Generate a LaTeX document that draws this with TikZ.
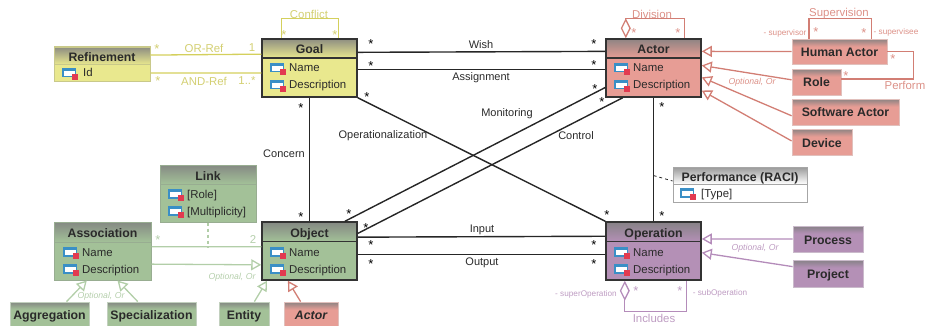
\documentclass[tikz,border=0pt]{standalone}
\usepackage{fontspec}
\setmainfont{Liberation Sans}
\usetikzlibrary{positioning,arrows.meta,calc}

\definecolor{goalfill}{HTML}{E9E88E}
\definecolor{goalline}{HTML}{D4D05C}
\definecolor{goaltext}{HTML}{D3CF72}
\definecolor{actorfill}{HTML}{E79D95}
\definecolor{actorline}{HTML}{D27E74}
\definecolor{actortext}{HTML}{DC9188}
\definecolor{objectfill}{HTML}{A3C198}
\definecolor{objectline}{HTML}{B2CEA8}
\definecolor{objecttext}{HTML}{B5CFAC}
\definecolor{opfill}{HTML}{B490B6}
\definecolor{opline}{HTML}{B48CBA}
\definecolor{optext}{HTML}{BE9CC2}
\definecolor{inktext}{HTML}{2A2A2A}
\definecolor{iconblue}{HTML}{3A8FC6}
\definecolor{iconred}{HTML}{E23A50}

\newcommand{\attricon}{\tikz[x=1pt,y=1pt,baseline=0.5pt]{
    \fill[iconblue] (0,0) rectangle (14,9.5);
    \fill[white] (2,1.5) rectangle (12.5,6.5);
    \fill[iconred] (10,-2.5) rectangle (16,3.5);
}}

\tikzset{
    box/.style = {
        draw=#1!70!gray,
        fill=#1,
        shape=rectangle,
        inner sep=0pt,
        line width=1pt
    },
    mainbox/.style = {
        draw=black!80,
        fill=#1,
        shape=rectangle,
        inner sep=0pt,
        line width=1.5pt
    },
    head/.style = {
        draw=#1!70!gray,
        top color=#1!15!gray,
        bottom color=#1,
        shape=rectangle,
        inner sep=0pt,
        line width=0.8pt,
        text=inktext,
        text height=11pt,
        text depth=0pt,
        font=\fontsize{12.3}{14}\selectfont\bfseries
    },
    mainhead/.style = {
        head=#1,
        draw=black!80,
        line width=1.2pt
    },
    subbox/.style = {
        draw=#1!75!gray!60,
        fill=#1,
        shape=rectangle,
        inner sep=0pt,
        line width=0.8pt,
        text=inktext,
        text height=10pt,
        text depth=0pt,
        font=\fontsize{12.3}{14}\selectfont\bfseries,
        path picture={
            \foreach \k/\m in {0/15,1/25,2/35,3/47,4/59,5/71,6/83,7/93}
                \fill[#1!\m!gray] ([yshift=-\k pt]path picture bounding box.north west) rectangle ([yshift=-8pt]path picture bounding box.north east);
        }
    },
    attr/.style = {
        anchor=base west,
        inner sep=0pt,
        text=inktext,
        font=\fontsize{11.4}{13}\selectfont
    },
    assoc/.style = {
        draw=black!85,
        line width=1.4pt
    },
    tag/.style = {
        inner sep=0pt,
        text=inktext,
        font=\fontsize{11}{13}\selectfont
    },
    colortag/.style = {
        inner sep=0pt,
        text=#1,
        font=\fontsize{11.4}{13}\selectfont
    },
    optiontag/.style = {
        inner sep=0pt,
        text=#1,
        font=\fontsize{8.7}{10}\itshape\selectfont
    },
    roletag/.style = {
        inner sep=0pt,
        text=#1,
        font=\fontsize{8.2}{10}\selectfont
    },
    inherit/.style = {
        draw=#1,
        line width=1.3pt,
        -{Triangle[open,fill=white,length=10pt,width=11pt]}
    },
    holder/.style = {
        draw=#1,
        line width=1.3pt,
        {Diamond[open,fill=white,length=20pt,width=10pt]}-
    },
    multi/.style = {
        inner sep=0pt,
        text=#1,
        font=\fontsize{13}{13}\selectfont
    },
}

\begin{document}
\begin{tikzpicture}[x=1pt,y=-1pt]
    \useasboundingbox (0,0) rectangle (925,326);

    % main classes
    \node[mainbox=goalfill, minimum width=95pt, minimum height=58pt] (goal) at (309.5,68) {};
    \node[mainhead=goalfill, minimum width=95pt, minimum height=19pt] (goalhead) at (309.5,48.5) {Goal};
    \node[mainbox=actorfill, minimum width=95pt, minimum height=58pt] (actor) at (653.5,68) {};
    \node[mainhead=actorfill, minimum width=95pt, minimum height=19pt] (actorhead) at (653.5,48.5) {Actor};
    \node[mainbox=objectfill, minimum width=95pt, minimum height=58pt] (object) at (309.5,251) {};
    \node[mainhead=objectfill, minimum width=95pt, minimum height=19pt] (objecthead) at (309.5,232) {Object};
    \node[mainbox=opfill, minimum width=95pt, minimum height=58pt] (operation) at (653.5,251) {};
    \node[mainhead=opfill, minimum width=95pt, minimum height=19pt] (operationhead) at (653.5,232) {Operation};

    % other classes with attributes
    \node[box=goalfill, minimum width=96pt, minimum height=35pt] (refinement) at (102,64.5) {};
    \node[head=goalfill, minimum width=96pt, minimum height=17pt] (refinementhead) at (102,56) {Refinement};
    \node[box=objectfill, minimum width=96pt, minimum height=57pt] (link) at (208,193.5) {};
    \node[head=objectfill, minimum width=96pt, minimum height=19pt] (linkhead) at (208,174.5) {Link};
    \node[box=objectfill, minimum width=97pt, minimum height=58pt] (association) at (102.5,251) {};
    \node[head=objectfill, minimum width=97pt, minimum height=20pt] (associationhead) at (102.5,232) {Association};
    \node[box=white, draw=black!35, minimum width=134pt, minimum height=35pt] (performance) at (740,184.5) {};
    \node[head=white, draw=black!35, top color=black!40, bottom color=white, minimum width=134pt, minimum height=17pt] (performancehead) at (740,175.5) {Performance (RACI)};

    % attributes
    \node[attr] (goalname) at (270,72) {\attricon\hspace{3pt}Name};
    \node[attr] (goaldesc) at (270,89) {\attricon\hspace{3pt}Description};
    \node[attr] (actorname) at (614,72) {\attricon\hspace{3pt}Name};
    \node[attr] (actordesc) at (614,89) {\attricon\hspace{3pt}Description};
    \node[attr] (objectname) at (270,256) {\attricon\hspace{3pt}Name};
    \node[attr] (objectdesc) at (270,273) {\attricon\hspace{3pt}Description};
    \node[attr] (operationname) at (614,256) {\attricon\hspace{3pt}Name};
    \node[attr] (operationdesc) at (614,273) {\attricon\hspace{3pt}Description};
    \node[attr] (refinementid) at (62,77) {\attricon\hspace{5pt}Id};
    \node[attr] (linkrole) at (168,198) {\attricon\hspace{3pt}[Role]};
    \node[attr] (linkmulti) at (168,215) {\attricon\hspace{3pt}[Multiplicity]};
    \node[attr] (associationname) at (63,256) {\attricon\hspace{3pt}Name};
    \node[attr] (associationdesc) at (63,273) {\attricon\hspace{3pt}Description};
    \node[attr] (performancetype) at (680,197) {\attricon\hspace{5pt}[Type]};

    % subclasses
    \node[subbox=actorfill, minimum width=95pt, minimum height=25pt] (humanactor) at (839.5,51.5) {Human Actor};
    \node[subbox=actorfill, minimum width=49pt, minimum height=26pt] (role) at (816.5,82) {Role};
    \node[subbox=actorfill, minimum width=107pt, minimum height=26pt] (softwareactor) at (845.5,112) {Software Actor};
    \node[subbox=actorfill, minimum width=60pt, minimum height=26pt] (device) at (822,142) {Device};
    \node[subbox=opfill, minimum width=70pt, minimum height=26pt] (process) at (828,239) {Process};
    \node[subbox=opfill, minimum width=70pt, minimum height=27pt] (project) at (828,273.5) {Project};
    \node[subbox=objectfill, minimum width=79pt, minimum height=24pt] (aggregation) at (49.5,314) {Aggregation};
    \node[subbox=objectfill, minimum width=89pt, minimum height=24pt] (specialization) at (151.5,314) {Specialization};
    \node[subbox=objectfill, minimum width=50pt, minimum height=24pt] (entity) at (244,314) {Entity};
    \node[subbox=actorfill, minimum width=54pt, minimum height=24pt] (actorcopy) at (311,314) {\itshape Actor};

    % black associations
    \path[assoc] (goal.18.6) -- (actor.161.4);
    \path[assoc] (goal.-2.4) -- (actor.182.4);
    \path[assoc] (goal.south) -- (object.north);
    \path[assoc] (goal.south east) -- (operation.north west);
    \path[assoc] (object.40.9) -- (actor.202.8);
    \path[assoc] (object.20.8) -- (actor.-136.4);
    \path[assoc] (actor.south) -- (operation.north);
    \path[assoc] (object.16.4) -- (operation.163.6);
    \path[assoc] (object.-4.8) -- (operation.184.8);
    \coordinate (raci) at ($(actor.south)!0.63!(operation.north)$);
    \path[draw=black!85, line width=0.8pt, dashed] (raci) -- (performance.177);

    % yellow
    \path[draw=goalline, line width=1.3pt] (refinement.11.2) -- (goal.164.7);
    \path[draw=goalline, line width=1.3pt] (refinement.-10) -- (goal.-174);
    \path[draw=goalline, line width=1.3pt] (goal.133.6) -- ++(0,-20) -| (goal.46.4);

    % red
    \path[holder=actorline] (actor.133) -- ++(0,-20) -| (actor.44.5);
    \path[draw=actorline, line width=1.3pt] (humanactor.157.7) -- ++(0,-20) -| (humanactor.22.3);
    \path[draw=actorline, line width=1.3pt] (humanactor.east) -- ++(26,0) |- (role.7);
    \path[inherit=actorline] (humanactor.west) -- (actor.19.2);
    \path[inherit=actorline] (role.175.3) -- (actor.3.6);
    \path[inherit=actorline] (softwareactor.184.3) -- (actor.-11.9);
    \path[inherit=actorline] (device.178) -- (actor.-25.8);
    \path[inherit=actorline] (actorcopy.130) -- (object.-126.6);

    % green
    \path[draw=objectline, line width=1.3pt] (association.5) -- (object.175);
    \coordinate (linkfoot) at (link.south |- association.5);
    \path[draw=objectline, line width=1.3pt, dashed] (link.south) -- (linkfoot);
    \path[inherit=objectline] (association.-15) -- (object.-164.7);
    \path[inherit=objectline] (aggregation.36) -- (association.-118);
    \path[inherit=objectline] (specialization.138.4) -- (association.-63.4);
    \path[inherit=objectline] (entity.50) -- (object.-145);

    % purple
    \path[inherit=opline] (process.west) -- (operation.14);
    \path[inherit=opline] (project.169.5) -- (operation.-2);
    \path[holder=opline] (operation.-134.5) -- ++(0,30.5) -| (operation.-42.6);

    % black labels
    \node[tag] (wishlabel) at (481,45) {Wish};
    \node[tag] (assignmentlabel) at (481,78) {Assignment};
    \node[tag] (monitoringlabel) at (507,114) {Monitoring};
    \node[tag] (controllabel) at (576,136) {Control};
    \node[tag] (operationalizationlabel) at (383,136) {Operationalization};
    \node[tag] (concernlabel) at (284,154) {Concern};
    \node[tag] (inputlabel) at (482,230) {Input};
    \node[tag] (outputlabel) at (482,263) {Output};

    % coloured labels
    \node[colortag=goaltext] (conflictlabel) at (309,14) {Conflict};
    \node[colortag=goaltext] (orreflabel) at (204,48) {OR-Ref};
    \node[colortag=goaltext] (andreflabel) at (204,81) {AND-Ref};
    \node[colortag=goaltext] (onelabel) at (252,48) {1};
    \node[colortag=goaltext] (onemanylabel) at (247,81) {1..*};
    \node[colortag=actortext] (divisionlabel) at (652,14) {Division};
    \node[colortag=actortext] (supervisionlabel) at (839,14) {Supervision};
    \node[colortag=actortext] (performlabel) at (905,85) {Perform};
    \node[colortag=optext] (includeslabel) at (654,318) {Includes};
    \node[colortag=objecttext] (twolabel) at (253,240) {2};
    \node[optiontag=actortext] (actoroption) at (752,82) {Optional, Or};
    \node[optiontag=optext] (operationoption) at (755,248) {Optional, Or};
    \node[optiontag=objecttext] (objectoption) at (232,277) {Optional, Or};
    \node[optiontag=objecttext] (associationoption) at (101,296) {Optional, Or};
    \node[roletag=actortext] (supervisorlabel) at (785,33) {- supervisor};
    \node[roletag=actortext] (superviseelabel) at (896,32) {- supervisee};
    \node[roletag=optext] (superoplabel) at (586,294) {- superOperation};
    \node[roletag=optext] (suboplabel) at (720,293) {- subOperation};

    % multiplicities
    \foreach \px/\py [count=\i] in {371/44,371/66,367/97,301/108,594/44,594/65,595/89,602/102,662/107,301/217,349/214,366/228,371/245,371/264,607/215,594/245,594/264,662/216}
        \node[multi=black] (star\i) at (\px,\py) {*};
    \foreach \px/\py [count=\i] in {157/49,158/81,284/35,335/35}
        \node[multi=goaltext] (goalstar\i) at (\px,\py) {*};
    \foreach \px/\py [count=\i] in {634/33,678/33,816/32,864/33,893/59,846/76}
        \node[multi=actortext] (actorstar\i) at (\px,\py) {*};
    \node[multi=objecttext] (objectstar) at (158,240) {*};
    \foreach \px/\py [count=\i] in {636/291,680/291}
        \node[multi=optext] (opstar\i) at (\px,\py) {*};

\end{tikzpicture}
\end{document}
